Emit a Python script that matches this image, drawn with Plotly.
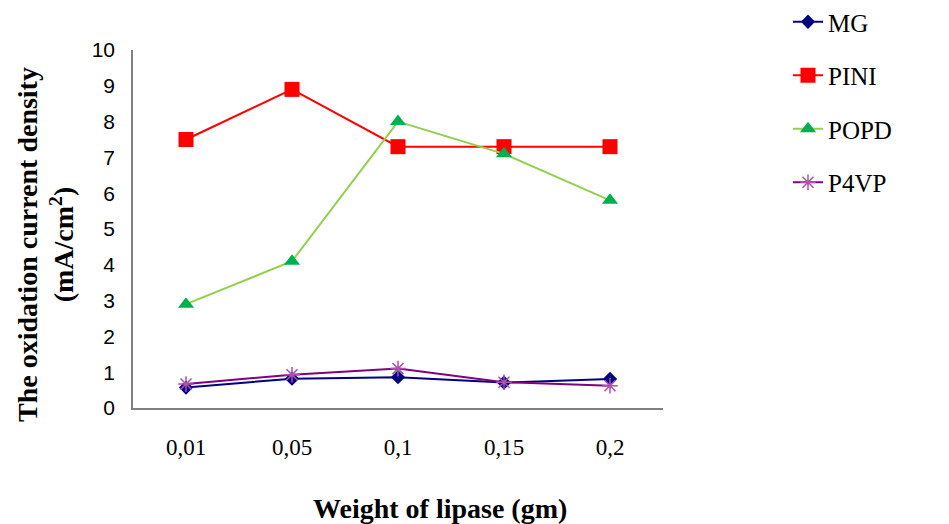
import plotly.graph_objects as go

categories = ["0,01", "0,05", "0,1", "0,15", "0,2"]
mg = [0.57, 0.82, 0.86, 0.71, 0.81]
pini = [7.5, 8.9, 7.3, 7.3, 7.3]
popd = [2.9, 4.1, 8.0, 7.1, 5.8]
p4vp = [0.67, 0.93, 1.1, 0.72, 0.62]
y_ticks = list(range(0, 11))

L, R, T, B = 133, 286, 50, 116
W, H = 949, 524
pw = W - L - R
ph = H - T - B

fig = go.Figure()
series = [
    ("MG", mg, "#000080", dict(symbol="diamond", size=11, color="#000080")),
    ("PINI", pini, "#FF0000", dict(symbol="square", size=15, color="#FF0000")),
    ("POPD", popd, "#92D050", dict(symbol="triangle-up", size=14, color="#00B050")),
    ("P4VP", p4vp, "#800080", dict(symbol="asterisk-open", size=13, color="#B050B0",
                                    line=dict(color="#B050B0", width=1.5))),
]
for i, (name, vals, lc, mk) in enumerate(series):
    fig.add_trace(go.Scatter(
        x=categories, y=vals, name=name, mode="lines+markers",
        line=dict(color=lc, width=2), marker=mk, legendgroup=str(i),
    ))

fig.update_layout(
    width=W, height=H,
    margin=dict(l=L, r=R, t=T, b=B, autoexpand=False),
    plot_bgcolor="white", paper_bgcolor="white",
    showlegend=True,
    legend=dict(x=(788 - L) / pw, y=(H - B + 1) / ph, xanchor="left", yanchor="top",
                font=dict(family="Liberation Serif", size=25, color="black"),
                tracegroupgap=18, bgcolor="rgba(0,0,0,0)"),
    xaxis=dict(type="category", range=[-0.5, 4.5], showline=True, linecolor="#808080",
               linewidth=1.5, showgrid=False, zeroline=False, ticks="",
               tickfont=dict(family="Liberation Serif", size=23, color="black"),
               ticklabelstandoff=18),
    yaxis=dict(range=[0, 10], tickvals=y_ticks, showline=True, linecolor="#808080",
               linewidth=1.5, showgrid=False, zeroline=False, ticks="",
               tickfont=dict(family="Liberation Sans", size=21, color="black"),
               ticklabelstandoff=12),
    annotations=[
        dict(text="<b>Weight of lipase (gm)</b>", xref="paper", yref="paper",
             x=(440 - L) / pw, y=(H - B - 508) / ph, xanchor="center", yanchor="middle",
             showarrow=False, font=dict(family="Liberation Serif", size=28, color="black")),
        dict(text="<b>The oxidation current density<br>(mA/cm<sup>2</sup>)</b>", xref="paper", yref="paper",
             x=(46 - L) / pw, y=(H - B - 245) / ph, xanchor="center", yanchor="middle",
             textangle=-90, showarrow=False,
             font=dict(family="Liberation Serif", size=28, color="black")),
    ],
)

fig.write_html("out.html")
